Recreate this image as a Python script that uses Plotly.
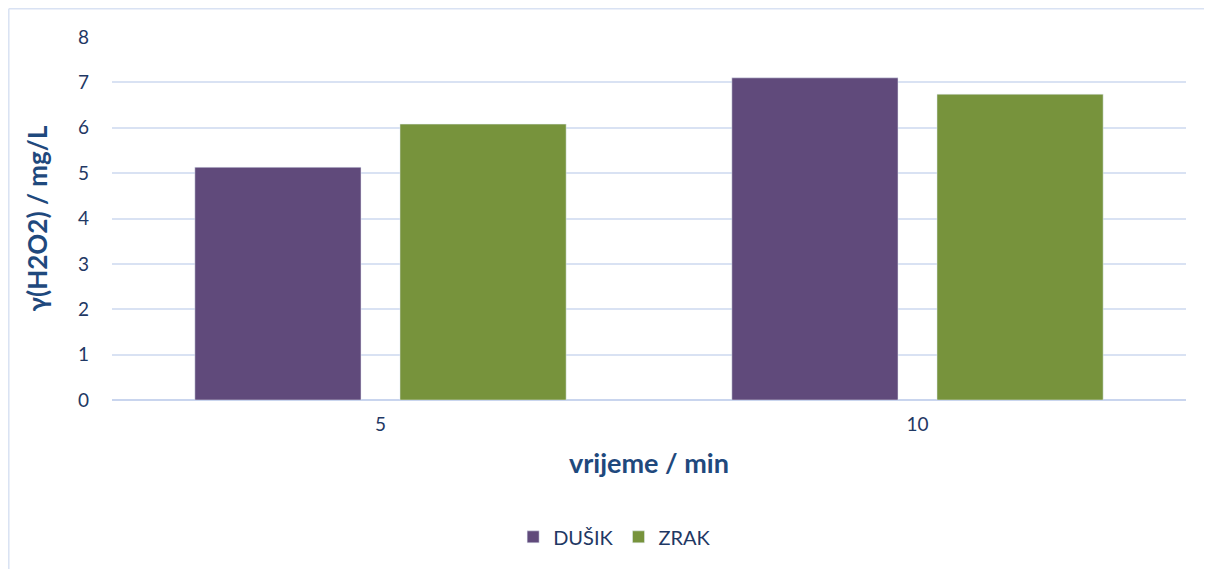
import plotly.graph_objects as go

categories = ["5", "10"]
dusik = [5.13, 7.10]
zrak = [6.08, 6.74]
series_names = ["DUŠIK", "ZRAK"]
y_ticks = [0, 1, 2, 3, 4, 5, 6, 7, 8]

W, H = 1212, 569
OFF = 8  # page body offset
L, R, T, B = 112 - OFF, 26 + OFF, 37 - OFF, 169 + OFF
pw, ph = W - L - R, H - T - B

fig = go.Figure()
fig.add_trace(go.Bar(x=categories, y=dusik, name=series_names[0], marker_color="#604A7B"))
fig.add_trace(go.Bar(x=categories, y=zrak, name=series_names[1], marker_color="#77933C"))

font_fam = "Lato, 'Open Sans', sans-serif"
txt = "#1F3864"
title_col = "#1F497D"

fig.update_layout(
    width=W, height=H,
    margin=dict(l=L, r=R, t=T, b=B),
    paper_bgcolor="white", plot_bgcolor="white",
    barmode="group", bargap=0.236, bargroupgap=0.19,
    font=dict(family=font_fam, color=txt),
    showlegend=True,
    legend=dict(orientation="h", x=0.468, xanchor="center", y=-0.377, yanchor="middle",
                font=dict(size=20, color=txt), traceorder="normal", itemwidth=30),
    xaxis=dict(type="category", showgrid=False, showline=False, ticks="",
               tickfont=dict(size=19, color=txt), ticklabelstandoff=11,
               title=dict(text="<b>vrijeme / min</b>", font=dict(size=27, color=title_col), standoff=20)),
    yaxis=dict(range=[0, 8], tickvals=y_ticks, showgrid=True, gridcolor="#D9E2F3", gridwidth=1.5,
               zeroline=True, zerolinecolor="#C9D5EE", zerolinewidth=1.5, showline=False,
               tickfont=dict(size=19, color=txt), ticklabelstandoff=22,
               title=dict(text="<b>γ(H2O2) / mg/L</b>", font=dict(size=26, color=title_col), standoff=22)),
)

# outer chart border (visible top and left edges)
bx = 0.8
by = 0.8
x0 = (bx - L) / pw
y1 = (H - B - by) / ph
fig.add_shape(type="line", xref="paper", yref="paper", x0=x0, x1=(W + 20 - L) / pw, y0=y1, y1=y1,
              line=dict(color="#D9E2F3", width=1.5))
fig.add_shape(type="line", xref="paper", yref="paper", x0=x0, x1=x0, y0=y1, y1=(H - B - H - 20) / ph,
              line=dict(color="#D9E2F3", width=1.5))

fig.write_html("out.html")
